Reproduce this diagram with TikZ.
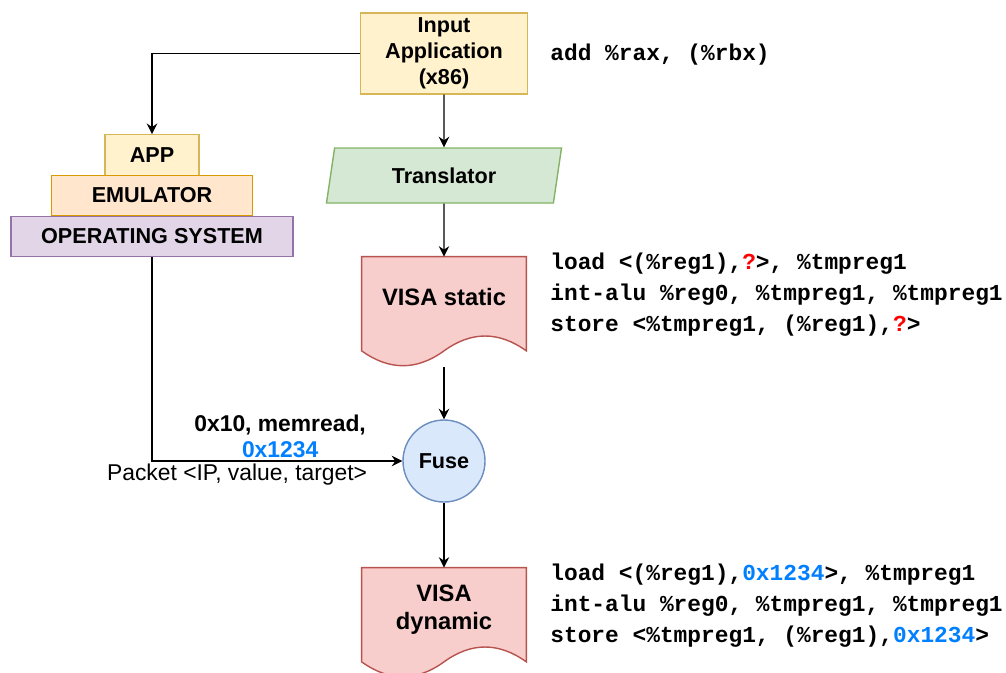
\documentclass[tikz,border=0pt]{standalone}
\usepackage{fontspec}
\setmainfont{Liberation Sans}
\setmonofont{Liberation Mono}
\usetikzlibrary{arrows.meta,shapes.geometric,backgrounds}
\definecolor{appfill}{HTML}{FFF2CC}
\definecolor{appdraw}{HTML}{D6B656}
\definecolor{emufill}{HTML}{FFE6CC}
\definecolor{emudraw}{HTML}{D79B00}
\definecolor{osfill}{HTML}{E1D5E7}
\definecolor{osdraw}{HTML}{9673A6}
\definecolor{trfill}{HTML}{D5E8D4}
\definecolor{trdraw}{HTML}{82B366}
\definecolor{docfill}{HTML}{F8CECC}
\definecolor{docdraw}{HTML}{B85450}
\definecolor{fusefill}{HTML}{DAE8FC}
\definecolor{fusedraw}{HTML}{6C8EBF}
\definecolor{valblue}{HTML}{007FFF}
\definecolor{qred}{HTML}{FF0000}
\begin{document}
\begin{tikzpicture}[
    box/.style={rectangle, draw, line width=0.8pt, font=\fontsize{12.3}{14.8}\selectfont\bfseries, align=center, inner sep=0pt},
    layer/.style={box, minimum height=0.81cm},
    doc/.style={rectangle, minimum width=3.28cm, minimum height=2.2cm},
    doclabel/.style={font=\fontsize{13.5}{16}\selectfont\bfseries, align=center},
    code/.style={anchor=west, align=left, inner sep=0pt, font=\fontsize{13}{17.6}\selectfont\ttfamily\bfseries},
    lbl/.style={font=\fontsize{13}{14.8}\selectfont, align=center, inner sep=1.5pt},
    flow/.style={-{Stealth[length=6pt,width=6pt,inset=2pt]}, line width=0.8pt}
]
\useasboundingbox (0,0) rectangle (20.12,-13.44);

% Input and translation chain
\node[box, fill=appfill, draw=appdraw, minimum width=3.34cm, minimum height=1.62cm] (inp) at (8.88,-1.07) {Input\\Application\\(x86)};
\node[box, shape=trapezium, trapezium left angle=63, trapezium right angle=117, trapezium stretches body,
      fill=trfill, draw=trdraw, minimum width=4.7cm, minimum height=1.1cm] (tr) at (8.88,-3.51) {Translator};
\node[doc, label={[doclabel, yshift=0.3cm]center:VISA static}] (vs) at (8.88,-6.24) {};
\node[circle, draw=fusedraw, fill=fusefill, line width=0.8pt, minimum size=1.64cm, inner sep=0pt,
      font=\fontsize{12.3}{14.8}\selectfont\bfseries] (fuse) at (8.88,-9.22) {Fuse};
\node[doc, label={[doclabel, yshift=0.26cm]center:VISA\\dynamic}] (vd) at (8.88,-12.46) {};

% Emulator stack
\node[layer, fill=appfill, draw=appdraw, minimum width=1.88cm] (app) at (3.04,-3.10) {APP};
\node[layer, fill=emufill, draw=emudraw, minimum width=4.02cm] (emu) at (3.04,-3.91) {EMULATOR};
\node[layer, fill=osfill, draw=osdraw, minimum width=5.64cm] (os) at (3.04,-4.73) {OPERATING SYSTEM};

% Document outlines
\begin{scope}[on background layer]
\foreach \d in {vs,vd}
  \draw[line width=0.8pt, draw=docdraw, fill=docfill] (\d.north west) -- (\d.north east) -- ([yshift=0.33cm]\d.south east)
    .. controls ([xshift=1.093cm,yshift=0.726cm]\d.south) and ([xshift=0.547cm,yshift=0.726cm]\d.south) .. ([yshift=0.33cm]\d.south)
    .. controls ([xshift=-0.547cm,yshift=-0.066cm]\d.south) and ([xshift=-1.093cm,yshift=-0.066cm]\d.south) .. ([yshift=0.33cm]\d.south west) -- cycle;
\end{scope}

% Code listings
\node[code] (asm) at (11.0,-1.10) {add \%rax, (\%rbx)};
\node[code] (vscode) at (11.0,-5.90) {load <(\%reg1),\textcolor{qred}{?}>, \%tmpreg1\\
int-alu \%reg0, \%tmpreg1, \%tmpreg1\\
store <\%tmpreg1, (\%reg1),\textcolor{qred}{?}>};
\node[code] (vdcode) at (11.0,-12.12) {load <(\%reg1),\textcolor{valblue}{0x1234}>, \%tmpreg1\\
int-alu \%reg0, \%tmpreg1, \%tmpreg1\\
store <\%tmpreg1, (\%reg1),\textcolor{valblue}{0x1234}>};

% Connectors
\draw[flow] (inp.west) -| (app.north);
\draw[flow] (inp.south) -- (tr.north);
\draw[flow] (tr.south) -- (vs.north);
\draw[flow] (vs.south) -- (fuse.north);
\draw[flow] (fuse.south) -- (vd.north);
\draw[flow] (os.south) |- (fuse.west)
    node[lbl, pos=0.756, above, font=\fontsize{13}{14.8}\selectfont\bfseries] (pkt) {0x10, memread,\\\textcolor{valblue}{0x1234}}
    node[lbl, pos=0.67, below] (pkttxt) {Packet <IP, value, target>};
\end{tikzpicture}
\end{document}
